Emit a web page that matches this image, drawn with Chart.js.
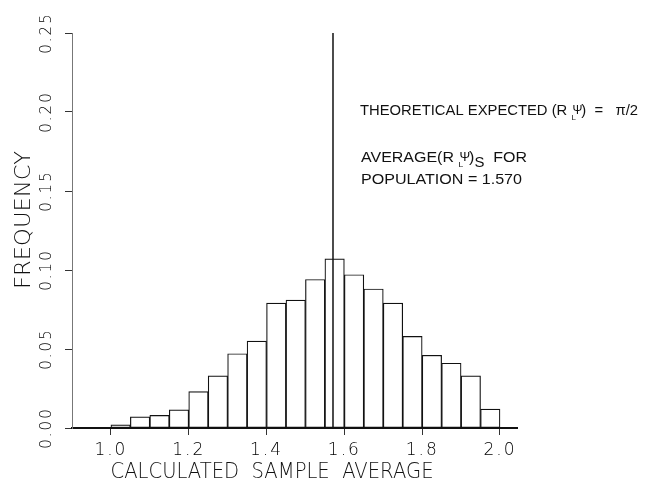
<!DOCTYPE html>
<html>
<head>
<meta charset="utf-8">
<style>
html,body{margin:0;padding:0;background:#fff;}
#wrap{width:645px;height:485px;}
</style>
</head>
<body>
<div id="wrap"><canvas id="c" width="645" height="485"></canvas></div>
<script src="https://cdn.jsdelivr.net/npm/chart.js@4"></script>
<script>
// ---- data ----
const binCenters = [1.025, 1.075, 1.125, 1.175, 1.225, 1.275, 1.325, 1.375, 1.425, 1.475,
                    1.525, 1.575, 1.625, 1.675, 1.725, 1.775, 1.825, 1.875, 1.925, 1.975];
const frequency  = [0.002, 0.007, 0.008, 0.0115, 0.023, 0.033, 0.047, 0.055, 0.079, 0.081,
                    0.094, 0.107, 0.097, 0.088, 0.079, 0.058, 0.046, 0.041, 0.033, 0.012];
const xTicks = [1.0, 1.2, 1.4, 1.6, 1.8, 2.0];
const yTicks = [0.00, 0.05, 0.10, 0.15, 0.20, 0.25];
const expectedMean = 1.5708;   // pi/2
const markerTop = 0.25;
const xTitle = 'CALCULATED  SAMPLE  AVERAGE';
const yTitle = 'FREQUENCY';

// ---- text helpers ----
function fitText(ctx, text, cx, cy, font, width, rot, color) {
  ctx.save();
  ctx.letterSpacing = '0px';
  ctx.font = font;
  ctx.fillStyle = color;
  ctx.textAlign = 'center';
  ctx.textBaseline = 'middle';
  ctx.translate(cx, cy);
  if (rot) ctx.rotate(rot);
  const w = ctx.measureText(text).width;
  ctx.scale(width / w, 1);
  ctx.fillText(text, 0, 0);
  ctx.restore();
}
function drawRuns(ctx, runs, x, y, totalWidth, color) {
  ctx.save();
  ctx.letterSpacing = '0px';
  ctx.fillStyle = color;
  ctx.textBaseline = 'alphabetic';
  ctx.textAlign = 'left';
  let sum = 0;
  runs.forEach(r => { ctx.font = r.f; r.w = ctx.measureText(r.t).width; if (r.adv !== false) sum += r.w; });
  const s = totalWidth / sum;
  ctx.translate(x, y);
  ctx.scale(s, 1);
  let cx = 0;
  runs.forEach(r => {
    ctx.font = r.f;
    ctx.fillText(r.t, cx + (r.dx || 0), r.dy || 0);
    if (r.adv !== false) cx += r.w;
  });
  ctx.restore();
}

const F = "'Liberation Sans Narrow','Liberation Sans',Arial,sans-serif";

const textPlugin = {
  id: 'texts',
  beforeDraw(chart) { chart.ctx.letterSpacing = '2px'; },
  afterDraw(chart) {
    const ctx = chart.ctx;
    ctx.letterSpacing = '0px';
    fitText(ctx, xTitle, 272, 472, "200 22px 'DejaVu Sans'", 323, 0, '#111');
    fitText(ctx, yTitle, 24, 220, "200 22px 'DejaVu Sans'", 138, -Math.PI / 2, '#111');
    drawRuns(ctx, [
      {t: 'THEORETICAL EXPECTED (R ', f: '15px ' + F},
      {t: 'L', f: '8px ' + F, dy: 5, adv: false},
      {t: 'Ψ', f: '12px ' + F, dy: -1, dx: 1},
      {t: ')  =   π/2', f: '15px ' + F}
    ], 360, 115, 278, '#111');
    drawRuns(ctx, [
      {t: 'AVERAGE(R ', f: '15px ' + F},
      {t: 'L', f: '8px ' + F, dy: 5, adv: false},
      {t: 'Ψ', f: '12px ' + F, dy: -1, dx: 1},
      {t: ')', f: '15px ' + F},
      {t: 'S', f: '14px ' + F, dy: 5},
      {t: '  FOR', f: '15px ' + F}
    ], 361, 162, 166, '#111');
    drawRuns(ctx, [
      {t: 'POPULATION = 1.570', f: '15px ' + F}
    ], 361, 184, 161, '#111');
  }
};

const tickFont = (size) => ({family: "'DejaVu Sans'", size: size, weight: '200'});

new Chart(document.getElementById('c').getContext('2d'), {
  type: 'bar',
  data: {
    datasets: [
      {
        type: 'line',
        order: 0,
        data: [{x: expectedMean, y: 0}, {x: expectedMean, y: markerTop}],
        borderColor: '#111',
        borderWidth: 1.5,
        pointRadius: 0,
        fill: false,
        clip: false
      },
      {
        type: 'bar',
        order: 1,
        data: binCenters.map((x, i) => ({x: x, y: frequency[i]})),
        backgroundColor: '#ffffff',
        borderColor: '#111',
        borderWidth: 1.2,
        borderSkipped: false,
        barPercentage: 1,
        categoryPercentage: 1
      }
    ]
  },
  options: {
    responsive: false,
    animation: false,
    layout: {padding: {top: 33, right: 127.5, left: 0, bottom: 0}},
    plugins: {legend: {display: false}, tooltip: {enabled: false}, title: {display: false}},
    scales: {
      x: {
        type: 'linear',
        min: 0.9,
        max: 2.045,
        offset: false,
        grid: {display: true, drawOnChartArea: false, drawTicks: true, tickLength: 7, color: '#333', lineWidth: 1, offset: false},
        border: {display: true, color: '#111', width: 2},
        ticks: {
          font: tickFont(17), color: '#000', padding: 5, maxRotation: 0, minRotation: 0, autoSkip: false,
          callback: v => Number(v).toFixed(1)
        },
        afterBuildTicks: s => { s.ticks = xTicks.map(v => ({value: v})); },
        afterFit: s => { s.height = 57; }
      },
      y: {
        type: 'linear',
        min: 0,
        max: 0.25,
        grid: {display: true, drawOnChartArea: false, drawTicks: true, tickLength: 7, color: '#333', lineWidth: 1},
        border: {display: true, color: '#777', width: 1, dash: [7, 3]},
        ticks: {
          font: tickFont(15), color: '#000', padding: 1, crossAlign: 'center',
          minRotation: 90, maxRotation: 90, autoSkip: false,
          callback: v => Number(v).toFixed(2)
        },
        afterBuildTicks: s => { s.ticks = yTicks.map(v => ({value: v})); },
        afterFit: s => { s.width = 72; }
      }
    }
  },
  plugins: [textPlugin]
});
</script>
</body>
</html>
